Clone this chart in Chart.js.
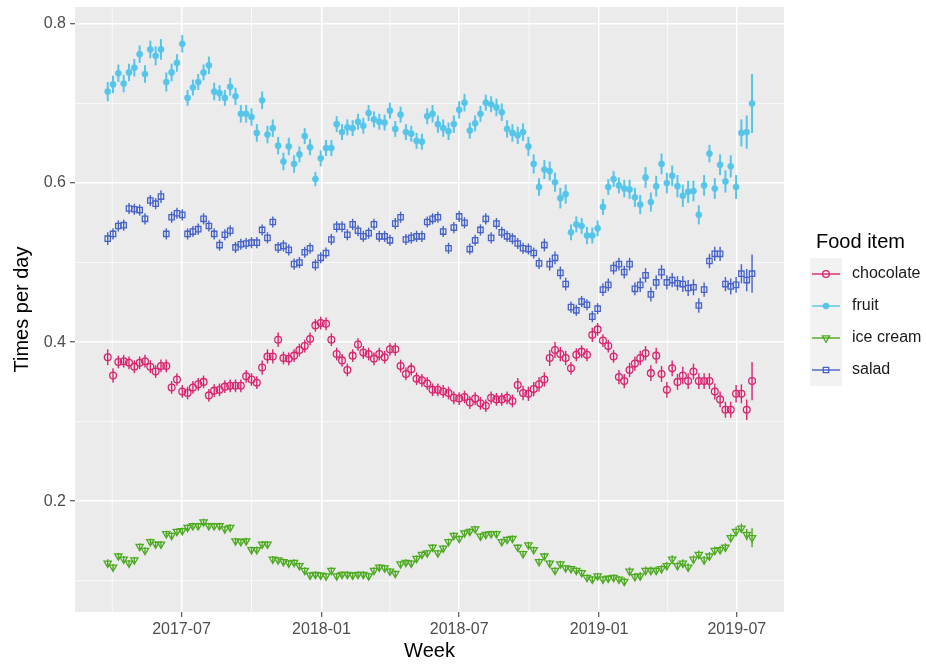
<!DOCTYPE html>
<html>
<head>
<meta charset="utf-8">
<script src="https://cdn.jsdelivr.net/npm/chart.js@4"></script>
<style>
  body { margin: 0; background: #ffffff; }
  #chart { display: block; }
</style>
</head>
<body>
<canvas id="chart" width="926" height="667"></canvas>
<script>
// Week starts (x categories)
const weeks = [
  '2017-03-26','2017-04-02','2017-04-09','2017-04-16','2017-04-23','2017-04-30','2017-05-07','2017-05-14','2017-05-21','2017-05-28',
  '2017-06-04','2017-06-11','2017-06-18','2017-06-25','2017-07-02','2017-07-09','2017-07-16','2017-07-23','2017-07-30','2017-08-06',
  '2017-08-13','2017-08-20','2017-08-27','2017-09-03','2017-09-10','2017-09-17','2017-09-24','2017-10-01','2017-10-08','2017-10-15',
  '2017-10-22','2017-10-29','2017-11-05','2017-11-12','2017-11-19','2017-11-26','2017-12-03','2017-12-10','2017-12-17','2017-12-24',
  '2017-12-31','2018-01-07','2018-01-14','2018-01-21','2018-01-28','2018-02-04','2018-02-11','2018-02-18','2018-02-25','2018-03-04',
  '2018-03-11','2018-03-18','2018-03-25','2018-04-01','2018-04-08','2018-04-15','2018-04-22','2018-04-29','2018-05-06','2018-05-13',
  '2018-05-20','2018-05-27','2018-06-03','2018-06-10','2018-06-17','2018-06-24','2018-07-01','2018-07-08','2018-07-15','2018-07-22',
  '2018-07-29','2018-08-05','2018-08-12','2018-08-19','2018-08-26','2018-09-02','2018-09-09','2018-09-16','2018-09-23','2018-09-30',
  '2018-10-07','2018-10-14','2018-10-21','2018-10-28','2018-11-04','2018-11-11','2018-11-18','2018-11-25','2018-12-02','2018-12-09',
  '2018-12-16','2018-12-23','2018-12-30','2019-01-06','2019-01-13','2019-01-20','2019-01-27','2019-02-03','2019-02-10','2019-02-17',
  '2019-02-24','2019-03-03','2019-03-10','2019-03-17','2019-03-24','2019-03-31','2019-04-07','2019-04-14','2019-04-21','2019-04-28',
  '2019-05-05','2019-05-12','2019-05-19','2019-05-26','2019-06-02','2019-06-09','2019-06-16','2019-06-23','2019-06-30','2019-07-07',
  '2019-07-14','2019-07-21'
];

// Times per day, one value per week
const chocolate = [
  0.381,0.358,0.375,0.376,0.374,0.369,0.374,0.376,0.369,0.363,
  0.370,0.370,0.343,0.353,0.338,0.336,0.343,0.347,0.350,0.333,
  0.339,0.340,0.344,0.345,0.345,0.345,0.357,0.353,0.349,0.368,
  0.382,0.382,0.403,0.380,0.379,0.383,0.390,0.395,0.404,0.421,
  0.424,0.423,0.403,0.385,0.377,0.365,0.383,0.397,0.387,0.385,
  0.379,0.385,0.381,0.391,0.391,0.370,0.360,0.366,0.354,0.352,
  0.348,0.340,0.340,0.338,0.336,0.330,0.329,0.331,0.324,0.329,
  0.323,0.320,0.330,0.328,0.328,0.330,0.326,0.346,0.336,0.335,
  0.341,0.347,0.353,0.380,0.390,0.385,0.380,0.367,0.384,0.388,
  0.384,0.409,0.416,0.402,0.395,0.382,0.356,0.351,0.365,0.373,
  0.380,0.386,0.361,0.383,0.360,0.340,0.367,0.350,0.358,0.351,
  0.363,0.351,0.351,0.351,0.338,0.328,0.315,0.315,0.335,0.335,
  0.315,0.351
];
const fruit = [
  0.715,0.724,0.738,0.725,0.739,0.745,0.762,0.737,0.768,0.760,
  0.768,0.727,0.739,0.751,0.775,0.707,0.720,0.727,0.739,0.748,
  0.715,0.713,0.707,0.721,0.709,0.687,0.687,0.683,0.663,0.704,
  0.661,0.669,0.647,0.627,0.646,0.624,0.636,0.659,0.645,0.605,
  0.631,0.644,0.644,0.674,0.664,0.670,0.669,0.677,0.672,0.688,
  0.680,0.677,0.676,0.691,0.668,0.686,0.664,0.662,0.653,0.652,
  0.684,0.687,0.674,0.669,0.665,0.674,0.692,0.701,0.666,0.675,
  0.687,0.701,0.699,0.695,0.689,0.668,0.663,0.660,0.664,0.646,
  0.624,0.595,0.617,0.615,0.601,0.581,0.586,0.538,0.548,0.546,
  0.534,0.534,0.543,0.570,0.595,0.605,0.597,0.593,0.592,0.582,
  0.573,0.607,0.576,0.596,0.624,0.600,0.609,0.596,0.584,0.589,
  0.590,0.560,0.597,0.637,0.593,0.623,0.602,0.621,0.595,0.663,
  0.664,0.700
];
const iceCream = [
  0.122,0.117,0.131,0.127,0.122,0.126,0.143,0.138,0.149,0.146,
  0.146,0.159,0.157,0.162,0.163,0.167,0.169,0.169,0.174,0.169,
  0.169,0.169,0.165,0.167,0.150,0.149,0.150,0.139,0.139,0.146,
  0.146,0.127,0.126,0.124,0.122,0.123,0.119,0.113,0.107,0.108,
  0.107,0.106,0.113,0.106,0.108,0.108,0.107,0.108,0.108,0.106,
  0.113,0.117,0.116,0.112,0.109,0.121,0.123,0.122,0.128,0.133,
  0.135,0.142,0.135,0.141,0.149,0.157,0.153,0.160,0.162,0.165,
  0.156,0.158,0.159,0.159,0.149,0.152,0.153,0.142,0.134,0.145,
  0.139,0.124,0.131,0.122,0.113,0.121,0.116,0.115,0.113,0.110,
  0.104,0.102,0.106,0.102,0.103,0.104,0.102,0.099,0.112,0.105,
  0.106,0.113,0.113,0.113,0.115,0.119,0.127,0.119,0.122,0.117,
  0.127,0.133,0.126,0.131,0.138,0.139,0.142,0.154,0.162,0.166,
  0.158,0.154
];
const salad = [
  0.530,0.536,0.546,0.547,0.568,0.567,0.566,0.555,0.578,0.574,
  0.583,0.536,0.557,0.562,0.560,0.536,0.539,0.542,0.555,0.546,
  0.536,0.522,0.535,0.540,0.519,0.523,0.524,0.525,0.525,0.541,
  0.531,0.551,0.519,0.521,0.516,0.498,0.500,0.513,0.518,0.497,
  0.506,0.512,0.529,0.545,0.545,0.535,0.548,0.540,0.533,0.537,
  0.548,0.533,0.533,0.528,0.549,0.557,0.529,0.531,0.533,0.533,
  0.551,0.555,0.557,0.539,0.518,0.544,0.558,0.550,0.517,0.528,
  0.541,0.555,0.531,0.549,0.538,0.533,0.530,0.524,0.518,0.517,
  0.512,0.499,0.522,0.498,0.506,0.487,0.473,0.444,0.440,0.451,
  0.447,0.432,0.442,0.466,0.472,0.493,0.498,0.488,0.498,0.467,
  0.472,0.484,0.460,0.475,0.488,0.475,0.478,0.474,0.473,0.468,
  0.469,0.446,0.466,0.502,0.511,0.511,0.473,0.470,0.472,0.486,
  0.478,0.486
];

// Half-widths of the error bars
const chocolateErr = [
  0.010,0.009,0.008,0.008,0.008,0.008,0.008,0.008,0.008,0.008,
  0.008,0.008,0.008,0.008,0.008,0.008,0.008,0.008,0.008,0.008,
  0.008,0.008,0.008,0.008,0.008,0.008,0.008,0.008,0.008,0.009,
  0.009,0.009,0.009,0.008,0.008,0.008,0.008,0.008,0.008,0.008,
  0.008,0.008,0.008,0.008,0.008,0.008,0.008,0.008,0.008,0.008,
  0.008,0.008,0.008,0.008,0.008,0.008,0.008,0.008,0.008,0.008,
  0.008,0.008,0.008,0.008,0.008,0.008,0.008,0.008,0.008,0.008,
  0.008,0.008,0.008,0.008,0.008,0.008,0.008,0.009,0.009,0.009,
  0.009,0.009,0.009,0.010,0.010,0.009,0.009,0.008,0.008,0.008,
  0.008,0.009,0.008,0.008,0.008,0.008,0.009,0.009,0.009,0.009,
  0.009,0.009,0.010,0.010,0.010,0.010,0.010,0.010,0.011,0.010,
  0.010,0.010,0.010,0.010,0.010,0.010,0.010,0.010,0.011,0.012,
  0.013,0.024
];
const fruitErr = [
  0.012,0.011,0.011,0.011,0.011,0.011,0.011,0.011,0.011,0.012,
  0.013,0.012,0.011,0.011,0.011,0.010,0.010,0.010,0.010,0.011,
  0.011,0.010,0.010,0.011,0.011,0.011,0.011,0.011,0.011,0.011,
  0.011,0.011,0.011,0.011,0.011,0.011,0.010,0.010,0.010,0.009,
  0.010,0.010,0.010,0.010,0.010,0.010,0.010,0.010,0.010,0.010,
  0.010,0.010,0.010,0.010,0.010,0.010,0.010,0.010,0.010,0.010,
  0.010,0.011,0.011,0.011,0.011,0.011,0.011,0.011,0.010,0.010,
  0.010,0.010,0.010,0.011,0.011,0.011,0.011,0.011,0.011,0.012,
  0.012,0.011,0.012,0.012,0.012,0.013,0.012,0.010,0.010,0.010,
  0.011,0.010,0.010,0.010,0.010,0.010,0.010,0.011,0.012,0.012,
  0.012,0.013,0.012,0.013,0.013,0.013,0.013,0.014,0.014,0.014,
  0.013,0.012,0.013,0.011,0.013,0.013,0.014,0.014,0.015,0.017,
  0.021,0.037
];
const iceCreamErr = [
  0.005,0.004,0.004,0.004,0.004,0.004,0.004,0.004,0.004,0.004,
  0.004,0.004,0.004,0.004,0.004,0.004,0.004,0.004,0.004,0.004,
  0.004,0.004,0.004,0.004,0.004,0.004,0.004,0.004,0.004,0.004,
  0.004,0.004,0.004,0.004,0.004,0.004,0.004,0.004,0.004,0.004,
  0.004,0.004,0.004,0.004,0.004,0.004,0.004,0.004,0.004,0.004,
  0.004,0.004,0.004,0.004,0.004,0.004,0.004,0.004,0.004,0.004,
  0.004,0.004,0.004,0.004,0.004,0.004,0.004,0.004,0.004,0.004,
  0.004,0.004,0.004,0.004,0.004,0.004,0.004,0.004,0.004,0.004,
  0.004,0.004,0.004,0.004,0.004,0.004,0.004,0.004,0.004,0.004,
  0.004,0.004,0.004,0.004,0.004,0.004,0.004,0.005,0.005,0.005,
  0.005,0.005,0.005,0.005,0.005,0.005,0.005,0.005,0.005,0.005,
  0.005,0.005,0.005,0.005,0.005,0.005,0.005,0.005,0.006,0.006,
  0.007,0.012
];
const saladErr = [
  0.008,0.007,0.007,0.007,0.007,0.007,0.007,0.007,0.007,0.007,
  0.008,0.007,0.007,0.007,0.007,0.007,0.007,0.007,0.007,0.007,
  0.007,0.007,0.007,0.007,0.007,0.007,0.007,0.007,0.007,0.007,
  0.007,0.007,0.007,0.007,0.007,0.007,0.007,0.007,0.007,0.007,
  0.007,0.007,0.007,0.007,0.007,0.007,0.007,0.007,0.007,0.007,
  0.007,0.007,0.007,0.007,0.007,0.007,0.007,0.007,0.007,0.007,
  0.007,0.007,0.007,0.007,0.007,0.007,0.007,0.007,0.007,0.007,
  0.007,0.007,0.007,0.007,0.007,0.007,0.007,0.007,0.007,0.007,
  0.007,0.007,0.008,0.008,0.008,0.008,0.008,0.007,0.007,0.007,
  0.007,0.007,0.007,0.008,0.008,0.008,0.008,0.008,0.008,0.008,
  0.009,0.009,0.009,0.009,0.009,0.009,0.009,0.009,0.010,0.010,
  0.010,0.009,0.009,0.009,0.009,0.009,0.009,0.010,0.010,0.012,
  0.014,0.024
];

const foodItems = ['chocolate', 'fruit', 'ice cream', 'salad'];

// Axis ticks
const xMajorTicks = ['2017-07-01', '2018-01-01', '2018-07-01', '2019-01-01', '2019-07-01'];
const xTickLabels = ['2017-07', '2018-01', '2018-07', '2019-01', '2019-07'];
const xMinorTicks = ['2017-04-01', '2017-10-01', '2018-04-01', '2018-10-01', '2019-04-01'];
const yMajorTicks = [0.2, 0.4, 0.6, 0.8];
const yMinorTicks = [0.1, 0.3, 0.5, 0.7];

// day number counted from 2017-01-01
function dayOf(s) {
    const p = s.split('-').map(Number);
    return (Date.UTC(p[0], p[1] - 1, p[2]) - Date.UTC(2017, 0, 1)) / 86400000;
}

const colors = {
    chocolate: '#DA2470',
    fruit: '#55C5EA',
    iceCream: '#4BAA1F',
    salad: '#4562C8'
};

function makePoints(values, errs) {
    return values.map((v, i) => ({ x: dayOf(weeks[i]), y: v, err: errs[i] }));
}

const fontFamily = '"Liberation Sans", Arial, Helvetica, sans-serif';

const datasets = [
    {
        label: foodItems[0],
        data: makePoints(chocolate, chocolateErr),
        pointStyle: 'circle', pointRadius: 3.4, borderWidth: 1.3,
        borderColor: colors.chocolate, backgroundColor: 'rgba(0,0,0,0)',
        errWidth: 1.4
    },
    {
        label: foodItems[1],
        data: makePoints(fruit, fruitErr),
        pointStyle: 'circle', pointRadius: 3.1, borderWidth: 0.5,
        borderColor: colors.fruit, backgroundColor: colors.fruit,
        errWidth: 2
    },
    {
        label: foodItems[2],
        data: makePoints(iceCream, iceCreamErr),
        pointStyle: 'triangle', rotation: 180, pointRadius: 4.2, borderWidth: 1.3,
        borderColor: colors.iceCream, backgroundColor: 'rgba(0,0,0,0)',
        errWidth: 1.4
    },
    {
        label: foodItems[3],
        data: makePoints(salad, saladErr),
        pointStyle: 'rect', pointRadius: 3.8, borderWidth: 1.3,
        borderColor: colors.salad, backgroundColor: 'rgba(0,0,0,0)',
        errWidth: 1.4
    }
];

// panel background + minor grid
const panelPlugin = {
    id: 'panel',
    beforeDraw(chart) {
        const { ctx, chartArea: a, scales } = chart;
        ctx.save();
        ctx.fillStyle = '#EBEBEB';
        ctx.fillRect(a.left, a.top, a.right - a.left, a.bottom - a.top);
        ctx.strokeStyle = '#FFFFFF';
        ctx.lineWidth = 0.7;
        xMinorTicks.forEach(d => {
            const px = scales.x.getPixelForValue(dayOf(d));
            ctx.beginPath(); ctx.moveTo(px, a.top); ctx.lineTo(px, a.bottom); ctx.stroke();
        });
        yMinorTicks.forEach(v => {
            const py = scales.y.getPixelForValue(v);
            ctx.beginPath(); ctx.moveTo(a.left, py); ctx.lineTo(a.right, py); ctx.stroke();
        });
        ctx.restore();
    }
};

// vertical error bars under the points
const errorBarPlugin = {
    id: 'errorBars',
    beforeDatasetsDraw(chart) {
        const { ctx, scales } = chart;
        ctx.save();
        chart.data.datasets.forEach(ds => {
            ctx.strokeStyle = ds.borderColor;
            ctx.lineWidth = ds.errWidth;
            ds.data.forEach(p => {
                const px = scales.x.getPixelForValue(p.x);
                ctx.beginPath();
                ctx.moveTo(px, scales.y.getPixelForValue(p.y - p.err));
                ctx.lineTo(px, scales.y.getPixelForValue(p.y + p.err));
                ctx.stroke();
            });
        });
        ctx.restore();
    }
};

function drawMarker(ctx, ds, x, y) {
    ctx.save();
    ctx.fillStyle = ds.backgroundColor;
    ctx.strokeStyle = ds.borderColor;
    ctx.lineWidth = ds.borderWidth;
    Chart.helpers.drawPoint(ctx, {
        pointStyle: ds.pointStyle,
        rotation: ds.rotation || 0,
        radius: ds.pointRadius,
        borderWidth: ds.borderWidth
    }, x, y);
    ctx.restore();
}

// ggplot-like legend on the right
const legendPlugin = {
    id: 'foodLegend',
    afterDraw(chart) {
        const ctx = chart.ctx;
        ctx.save();
        ctx.fillStyle = '#000000';
        ctx.font = '20px ' + fontFamily;
        ctx.textBaseline = 'middle';
        ctx.textAlign = 'left';
        ctx.fillText('Food item', 816, 242);
        chart.data.datasets.forEach((ds, i) => {
            const top = 258 + i * 32;
            const cx = 826, cy = top + 16;
            ctx.fillStyle = '#F2F2F2';
            ctx.fillRect(810, top, 32, 32);
            ctx.strokeStyle = ds.borderColor;
            ctx.lineWidth = 1.4;
            ctx.beginPath(); ctx.moveTo(812, cy); ctx.lineTo(840, cy); ctx.stroke();
            drawMarker(ctx, ds, cx, cy);
            ctx.fillStyle = '#1A1A1A';
            ctx.font = '16px ' + fontFamily;
            ctx.fillText(ds.label, 852, cy);
        });
        ctx.restore();
    }
};

new Chart(document.getElementById('chart'), {
    type: 'scatter',
    data: { datasets: datasets },
    options: {
        responsive: false,
        animation: false,
        devicePixelRatio: 1,
        layout: { padding: { left: 0, right: 142, top: 7, bottom: 0 } },
        plugins: {
            legend: { display: false },
            tooltip: { enabled: false }
        },
        scales: {
            x: {
                type: 'linear',
                min: dayOf('2017-02-11'),
                max: dayOf('2019-09-01'),
                afterFit(scale) {
                    scale.height = 55;
                    scale.paddingLeft = 0;
                    scale.paddingRight = 0;
                },
                afterBuildTicks(scale) {
                    scale.ticks = xMajorTicks.map(d => ({ value: dayOf(d) }));
                },
                ticks: {
                    autoSkip: false, maxRotation: 0, padding: 3,
                    color: '#4D4D4D',
                    font: { family: fontFamily, size: 16 },
                    callback: (v) => xTickLabels[xMajorTicks.findIndex(d => dayOf(d) === v)]
                },
                grid: { color: '#FFFFFF', lineWidth: 1.5, tickColor: '#333333', tickLength: 5, tickWidth: 1 },
                border: { display: false },
                title: {
                    display: true, text: 'Week', color: '#000000',
                    font: { family: fontFamily, size: 20 },
                    padding: { top: 2, bottom: 4 }
                }
            },
            y: {
                min: 0.0607,
                max: 0.8213,
                afterFit(scale) {
                    scale.width = 75;
                    scale.paddingTop = 0;
                    scale.paddingBottom = 0;
                },
                afterBuildTicks(scale) {
                    scale.ticks = yMajorTicks.map(v => ({ value: v }));
                },
                ticks: {
                    padding: 4,
                    color: '#4D4D4D',
                    font: { family: fontFamily, size: 16 },
                    callback: (v) => v.toFixed(1)
                },
                grid: { color: '#FFFFFF', lineWidth: 1.5, tickColor: '#333333', tickLength: 5, tickWidth: 1 },
                border: { display: false },
                title: {
                    display: true, text: 'Times per day', color: '#000000',
                    font: { family: fontFamily, size: 20 },
                    padding: { top: 10, bottom: 4 }
                }
            }
        }
    },
    plugins: [panelPlugin, errorBarPlugin, legendPlugin]
});
</script>
</body>
</html>
